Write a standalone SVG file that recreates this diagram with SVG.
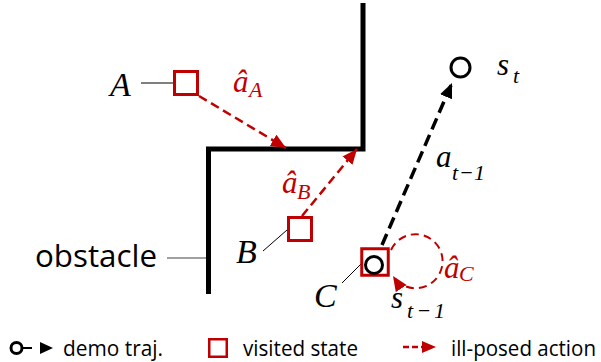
<svg xmlns="http://www.w3.org/2000/svg" width="601" height="362" viewBox="0 0 601 362">
<style>
.math{font-family:"Liberation Serif","DejaVu Serif",serif;font-style:italic;}
.big{font-size:34px;fill:#000;}
.red{fill:#C00000;}
.base{font-size:31px;}
.sub{font-size:22px;}
.sans{font-family:"Open Sans","Liberation Sans",sans-serif;fill:#000;}
.sq{fill:none;stroke:#C00000;stroke-width:3;}
.lead{stroke:#000;stroke-width:1;fill:none;}
.rdash{fill:none;stroke:#C00000;stroke-width:2.5;stroke-dasharray:9 5;}
.bdash{fill:none;stroke:#000;stroke-width:3.5;stroke-dasharray:12 6;}
.circ{fill:#fff;stroke:#000;stroke-width:3;}
</style>
<defs>
<marker id="ra" markerUnits="userSpaceOnUse" markerWidth="16" markerHeight="14" refX="15" refY="6.5" orient="auto">
<path d="M0,0 L15,6.5 L0,13 z" fill="#C00000"/>
</marker>
<marker id="ba" markerUnits="userSpaceOnUse" markerWidth="16" markerHeight="14" refX="15" refY="6.5" orient="auto">
<path d="M0,0 L15,6.5 L0,13 z" fill="#000"/>
</marker>
</defs>

<g id="obstacle">
<path d="M363 3 L363 149 L208.5 149 L208.5 294" fill="none" stroke="#000" stroke-width="5" stroke-linejoin="miter"/>
<line x1="167" y1="258" x2="206" y2="258" stroke="#808080" stroke-width="1.5"/>
<text class="sans" x="35" y="267" font-size="31" textLength="122" lengthAdjust="spacingAndGlyphs">obstacle</text>
</g>

<g id="connectors">
<path class="rdash" d="M199 96 L286 148" marker-end="url(#ra)"/>
<path class="rdash" d="M302 216 L357 149" marker-end="url(#ra)"/>
<path class="bdash" d="M382 245 L452 83" marker-end="url(#ba)"/>
<path d="M391 250 A27 27 0 1 1 393 276" fill="none" stroke="#C00000" stroke-width="2" stroke-dasharray="8 5" marker-end="url(#ra)"/>
</g>

<g id="nodeA">
<line class="lead" x1="141" y1="83" x2="173" y2="83"/>
<rect class="sq" x="174.5" y="71.5" width="23" height="23"/>
<text class="math big" x="110" y="96">A</text>
<text class="math red" x="233" y="92"><tspan class="base">â</tspan><tspan class="sub" x="249" y="97">A</tspan></text>
</g>

<g id="nodeB">
<line class="lead" x1="263" y1="251" x2="287" y2="230"/>
<rect class="sq" x="288.5" y="217.5" width="23" height="23"/>
<text class="math big" x="236" y="263">B</text>
<text class="math red" x="282" y="193"><tspan class="base">â</tspan><tspan class="sub" x="297" y="199">B</tspan></text>
</g>

<g id="nodeC">
<line class="lead" x1="342" y1="283" x2="362" y2="263"/>
<rect class="sq" x="361.75" y="248.75" width="26.5" height="26.5" stroke-width="3.5"/>
<circle class="circ" cx="374" cy="265" r="8.5"/>
<text class="math big" x="314" y="307">C</text>
<text class="math red" x="444" y="278"><tspan class="base">â</tspan><tspan class="sub" x="459" y="281">C</tspan></text>
<text class="math" x="391" y="308"><tspan class="base">s</tspan><tspan class="sub" x="407" y="318" textLength="38" lengthAdjust="spacing">t−1</tspan></text>
</g>

<g id="nodeSt">
<circle class="circ" cx="460.5" cy="67.5" r="9.5"/>
<text class="math" x="497" y="75"><tspan class="base">s</tspan><tspan class="sub" x="513" y="83">t</tspan></text>
</g>

<g id="labelAt">
<text class="math" x="436" y="167"><tspan class="base">a</tspan><tspan class="sub" x="452" y="180" textLength="33" lengthAdjust="spacing">t−1</tspan></text>
</g>

<g id="legend">
<circle cx="16.5" cy="348" r="5.5" fill="#fff" stroke="#000" stroke-width="3"/>
<line x1="22" y1="348" x2="32" y2="348" stroke="#000" stroke-width="2"/>
<path d="M40 342 L53 348 L40 354 z" fill="#000"/>
<text class="sans" x="63" y="356" font-size="21.5" textLength="100" lengthAdjust="spacingAndGlyphs">demo traj.</text>
<rect x="209.25" y="339.25" width="17.5" height="17.5" fill="none" stroke="#C00000" stroke-width="2.5"/>
<text class="sans" x="243" y="356" font-size="21.5" textLength="115" lengthAdjust="spacingAndGlyphs">visited state</text>
<line x1="403" y1="347" x2="424" y2="347" stroke="#C00000" stroke-width="2.5" stroke-dasharray="6 3"/>
<path d="M422 341 L436 347 L422 353 z" fill="#C00000"/>
<text class="sans" x="451" y="356" font-size="21" textLength="145" lengthAdjust="spacingAndGlyphs">ill-posed action</text>
</g>
</svg>
